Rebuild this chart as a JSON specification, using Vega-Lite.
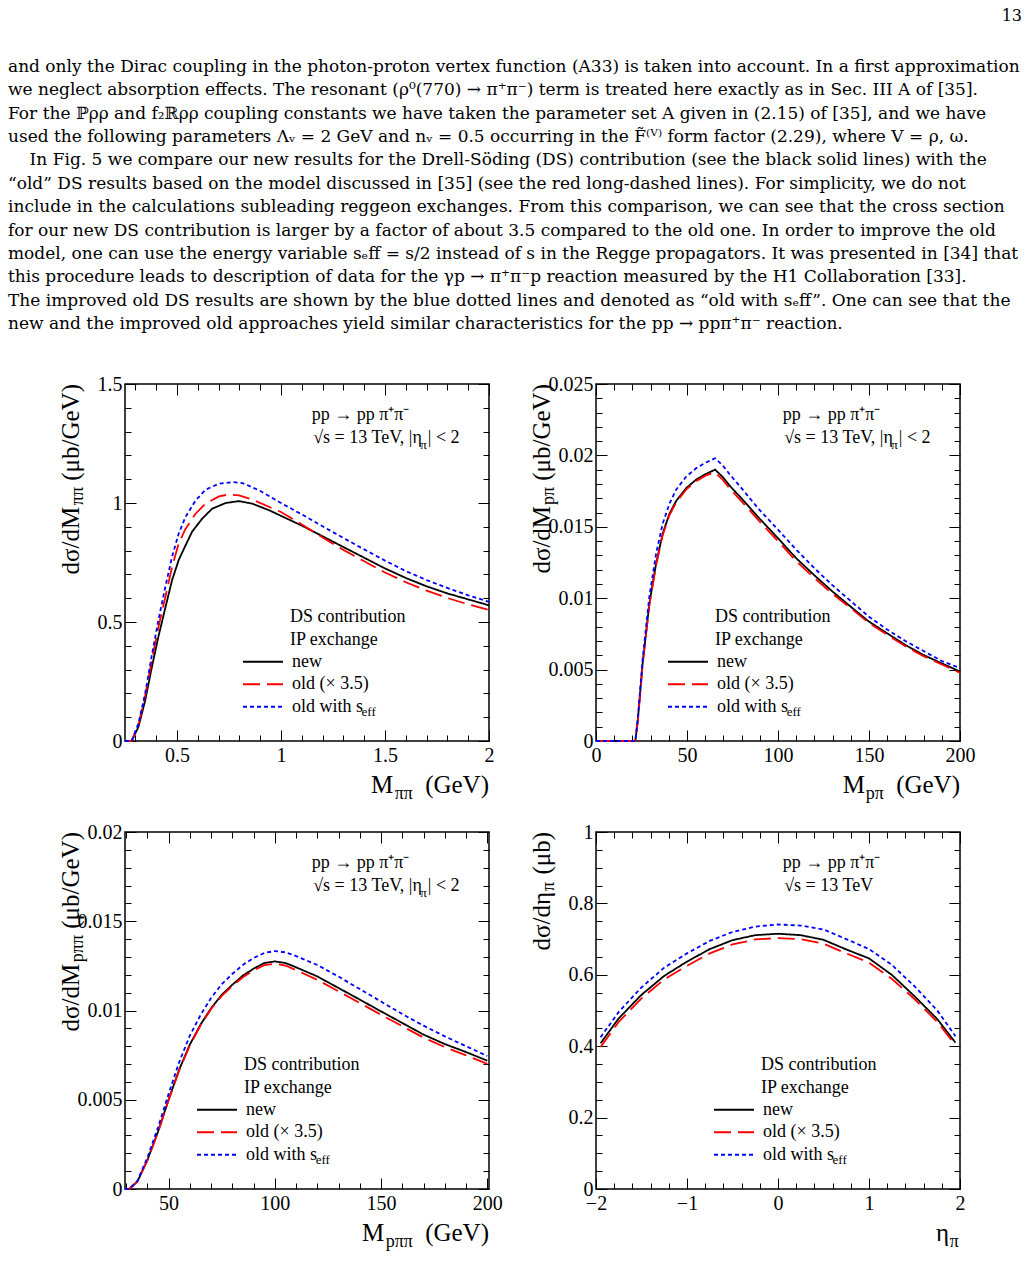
{
"$schema": "https://vega.github.io/schema/vega-lite/v6.json",
"padding": {"left": 8, "top": 7, "right": 5, "bottom": 5},
"background": "white",
"config": {"view": {"stroke": "black", "strokeWidth": 1.5}, "title": {"fontWeight": "normal", "color": "black"}},
"datasets": {
"p1": [
{"x":0.25,"y":0,"s":"n"},{"x":0.282,"y":0,"s":"n"},{"x":0.315,"y":0.06,"s":"n"},{"x":0.347,"y":0.17,"s":"n"},{"x":0.379,"y":0.31,"s":"n"},{"x":0.411,"y":0.44,"s":"n"},{"x":0.444,"y":0.56,"s":"n"},{"x":0.476,"y":0.675,"s":"n"},{"x":0.508,"y":0.76,"s":"n"},{"x":0.54,"y":0.82,"s":"n"},{"x":0.573,"y":0.88,"s":"n"},{"x":0.621,"y":0.934,"s":"n"},{"x":0.669,"y":0.976,"s":"n"},{"x":0.734,"y":1.0,"s":"n"},{"x":0.798,"y":1.008,"s":"n"},{"x":0.863,"y":0.997,"s":"n"},{"x":0.944,"y":0.969,"s":"n"},{"x":1.0,"y":0.946,"s":"n"},{"x":1.1,"y":0.905,"s":"n"},{"x":1.2,"y":0.86,"s":"n"},{"x":1.3,"y":0.815,"s":"n"},{"x":1.4,"y":0.77,"s":"n"},{"x":1.5,"y":0.725,"s":"n"},{"x":1.6,"y":0.685,"s":"n"},{"x":1.7,"y":0.65,"s":"n"},{"x":1.8,"y":0.62,"s":"n"},{"x":1.9,"y":0.595,"s":"n"},{"x":2.0,"y":0.57,"s":"n"},
{"x":0.25,"y":0,"s":"o"},{"x":0.282,"y":0,"s":"o"},{"x":0.315,"y":0.07,"s":"o"},{"x":0.347,"y":0.19,"s":"o"},{"x":0.379,"y":0.34,"s":"o"},{"x":0.411,"y":0.48,"s":"o"},{"x":0.444,"y":0.605,"s":"o"},{"x":0.476,"y":0.73,"s":"o"},{"x":0.508,"y":0.83,"s":"o"},{"x":0.54,"y":0.89,"s":"o"},{"x":0.589,"y":0.955,"s":"o"},{"x":0.637,"y":0.997,"s":"o"},{"x":0.702,"y":1.028,"s":"o"},{"x":0.75,"y":1.036,"s":"o"},{"x":0.798,"y":1.032,"s":"o"},{"x":0.863,"y":1.014,"s":"o"},{"x":0.944,"y":0.983,"s":"o"},{"x":1.0,"y":0.962,"s":"o"},{"x":1.1,"y":0.91,"s":"o"},{"x":1.2,"y":0.855,"s":"o"},{"x":1.3,"y":0.803,"s":"o"},{"x":1.4,"y":0.755,"s":"o"},{"x":1.5,"y":0.708,"s":"o"},{"x":1.6,"y":0.667,"s":"o"},{"x":1.7,"y":0.632,"s":"o"},{"x":1.8,"y":0.601,"s":"o"},{"x":1.9,"y":0.574,"s":"o"},{"x":2.0,"y":0.55,"s":"o"},
{"x":0.25,"y":0,"s":"e"},{"x":0.282,"y":0,"s":"e"},{"x":0.315,"y":0.075,"s":"e"},{"x":0.347,"y":0.2,"s":"e"},{"x":0.379,"y":0.36,"s":"e"},{"x":0.411,"y":0.51,"s":"e"},{"x":0.444,"y":0.648,"s":"e"},{"x":0.476,"y":0.773,"s":"e"},{"x":0.508,"y":0.871,"s":"e"},{"x":0.54,"y":0.94,"s":"e"},{"x":0.589,"y":1.01,"s":"e"},{"x":0.637,"y":1.056,"s":"e"},{"x":0.702,"y":1.081,"s":"e"},{"x":0.766,"y":1.088,"s":"e"},{"x":0.815,"y":1.084,"s":"e"},{"x":0.895,"y":1.053,"s":"e"},{"x":1.0,"y":1.0,"s":"e"},{"x":1.1,"y":0.952,"s":"e"},{"x":1.2,"y":0.902,"s":"e"},{"x":1.3,"y":0.853,"s":"e"},{"x":1.4,"y":0.805,"s":"e"},{"x":1.5,"y":0.758,"s":"e"},{"x":1.6,"y":0.714,"s":"e"},{"x":1.7,"y":0.676,"s":"e"},{"x":1.8,"y":0.643,"s":"e"},{"x":1.9,"y":0.612,"s":"e"},{"x":2.0,"y":0.585,"s":"e"}
],
"p2": [
{"x":0,"y":0,"s":"n"},{"x":21.6,"y":0,"s":"n"},{"x":23,"y":0.0015,"s":"n"},{"x":25.6,"y":0.0054,"s":"n"},{"x":29.3,"y":0.0096,"s":"n"},{"x":33,"y":0.0124,"s":"n"},{"x":36.6,"y":0.0145,"s":"n"},{"x":40.3,"y":0.0159,"s":"n"},{"x":44,"y":0.0168,"s":"n"},{"x":49.5,"y":0.0177,"s":"n"},{"x":55,"y":0.0183,"s":"n"},{"x":60.4,"y":0.0187,"s":"n"},{"x":65.4,"y":0.019,"s":"n"},{"x":69.6,"y":0.0185,"s":"n"},{"x":73.3,"y":0.0179,"s":"n"},{"x":80.6,"y":0.0169,"s":"n"},{"x":89.7,"y":0.0156,"s":"n"},{"x":100,"y":0.0142,"s":"n"},{"x":110,"y":0.0128,"s":"n"},{"x":120,"y":0.0116,"s":"n"},{"x":130,"y":0.01046,"s":"n"},{"x":140,"y":0.0094,"s":"n"},{"x":150,"y":0.00836,"s":"n"},{"x":160,"y":0.00754,"s":"n"},{"x":170,"y":0.00672,"s":"n"},{"x":180,"y":0.00602,"s":"n"},{"x":190,"y":0.00544,"s":"n"},{"x":200,"y":0.00486,"s":"n"},
{"x":0,"y":0,"s":"o"},{"x":21.6,"y":0,"s":"o"},{"x":23,"y":0.0014,"s":"o"},{"x":25.6,"y":0.0053,"s":"o"},{"x":29.3,"y":0.0095,"s":"o"},{"x":33,"y":0.0123,"s":"o"},{"x":36.6,"y":0.0144,"s":"o"},{"x":40.3,"y":0.0158,"s":"o"},{"x":44,"y":0.0167,"s":"o"},{"x":49.5,"y":0.0176,"s":"o"},{"x":55,"y":0.0182,"s":"o"},{"x":60.4,"y":0.0186,"s":"o"},{"x":65.4,"y":0.0188,"s":"o"},{"x":69.6,"y":0.0183,"s":"o"},{"x":73.3,"y":0.0177,"s":"o"},{"x":80.6,"y":0.0167,"s":"o"},{"x":89.7,"y":0.0154,"s":"o"},{"x":100,"y":0.014,"s":"o"},{"x":110,"y":0.0126,"s":"o"},{"x":120,"y":0.0114,"s":"o"},{"x":130,"y":0.0103,"s":"o"},{"x":140,"y":0.0093,"s":"o"},{"x":150,"y":0.00826,"s":"o"},{"x":160,"y":0.00745,"s":"o"},{"x":170,"y":0.00663,"s":"o"},{"x":180,"y":0.00594,"s":"o"},{"x":190,"y":0.00536,"s":"o"},{"x":200,"y":0.00478,"s":"o"},
{"x":0,"y":0,"s":"e"},{"x":21.6,"y":0,"s":"e"},{"x":23,"y":0.0016,"s":"e"},{"x":25.6,"y":0.0057,"s":"e"},{"x":29.3,"y":0.0101,"s":"e"},{"x":33,"y":0.0131,"s":"e"},{"x":36.6,"y":0.0152,"s":"e"},{"x":40.3,"y":0.0166,"s":"e"},{"x":44,"y":0.0176,"s":"e"},{"x":49.5,"y":0.0185,"s":"e"},{"x":55,"y":0.0191,"s":"e"},{"x":60.4,"y":0.0195,"s":"e"},{"x":65.4,"y":0.0198,"s":"e"},{"x":69.6,"y":0.0193,"s":"e"},{"x":73.3,"y":0.0187,"s":"e"},{"x":80.6,"y":0.0176,"s":"e"},{"x":89.7,"y":0.0162,"s":"e"},{"x":100,"y":0.0148,"s":"e"},{"x":110,"y":0.0134,"s":"e"},{"x":120,"y":0.0121,"s":"e"},{"x":130,"y":0.0109,"s":"e"},{"x":140,"y":0.0098,"s":"e"},{"x":150,"y":0.0087,"s":"e"},{"x":160,"y":0.0078,"s":"e"},{"x":170,"y":0.007,"s":"e"},{"x":180,"y":0.0063,"s":"e"},{"x":190,"y":0.0056,"s":"e"},{"x":200,"y":0.0051,"s":"e"}
],
"p3": [
{"x":29.5,"y":0,"s":"n"},{"x":31.5,"y":0,"s":"n"},{"x":35.4,"y":0.00043,"s":"n"},{"x":40.1,"y":0.00164,"s":"n"},{"x":45.1,"y":0.00323,"s":"n"},{"x":50,"y":0.005,"s":"n"},{"x":55,"y":0.00669,"s":"n"},{"x":60,"y":0.00809,"s":"n"},{"x":65.2,"y":0.00924,"s":"n"},{"x":70.1,"y":0.01014,"s":"n"},{"x":75.1,"y":0.01089,"s":"n"},{"x":80.1,"y":0.01145,"s":"n"},{"x":85.1,"y":0.01197,"s":"n"},{"x":90,"y":0.01234,"s":"n"},{"x":95,"y":0.01266,"s":"n"},{"x":100,"y":0.01275,"s":"n"},{"x":105,"y":0.01266,"s":"n"},{"x":110,"y":0.01242,"s":"n"},{"x":120,"y":0.01191,"s":"n"},{"x":130,"y":0.01126,"s":"n"},{"x":140,"y":0.01061,"s":"n"},{"x":150,"y":0.00995,"s":"n"},{"x":160,"y":0.0093,"s":"n"},{"x":170,"y":0.00865,"s":"n"},{"x":180,"y":0.00812,"s":"n"},{"x":190,"y":0.00767,"s":"n"},{"x":200,"y":0.00719,"s":"n"},
{"x":29.5,"y":0,"s":"o"},{"x":31.5,"y":0,"s":"o"},{"x":35.4,"y":0.00042,"s":"o"},{"x":40.1,"y":0.00162,"s":"o"},{"x":45.1,"y":0.0032,"s":"o"},{"x":50,"y":0.00497,"s":"o"},{"x":55,"y":0.00664,"s":"o"},{"x":60,"y":0.00804,"s":"o"},{"x":65.2,"y":0.0092,"s":"o"},{"x":70.1,"y":0.0101,"s":"o"},{"x":75.1,"y":0.01083,"s":"o"},{"x":80.1,"y":0.01138,"s":"o"},{"x":85.1,"y":0.01188,"s":"o"},{"x":90,"y":0.01224,"s":"o"},{"x":95,"y":0.01254,"s":"o"},{"x":100,"y":0.01262,"s":"o"},{"x":105,"y":0.01252,"s":"o"},{"x":110,"y":0.01226,"s":"o"},{"x":120,"y":0.01172,"s":"o"},{"x":130,"y":0.01107,"s":"o"},{"x":140,"y":0.01042,"s":"o"},{"x":150,"y":0.00976,"s":"o"},{"x":160,"y":0.00912,"s":"o"},{"x":170,"y":0.00848,"s":"o"},{"x":180,"y":0.00795,"s":"o"},{"x":190,"y":0.00749,"s":"o"},{"x":200,"y":0.00701,"s":"o"},
{"x":29.5,"y":0,"s":"e"},{"x":31.5,"y":0,"s":"e"},{"x":35.4,"y":0.00047,"s":"e"},{"x":40.1,"y":0.00178,"s":"e"},{"x":45.1,"y":0.00347,"s":"e"},{"x":50,"y":0.00532,"s":"e"},{"x":55,"y":0.00711,"s":"e"},{"x":60,"y":0.00859,"s":"e"},{"x":65.2,"y":0.00978,"s":"e"},{"x":70.1,"y":0.01072,"s":"e"},{"x":75.1,"y":0.01148,"s":"e"},{"x":80.1,"y":0.01206,"s":"e"},{"x":85.1,"y":0.01256,"s":"e"},{"x":90,"y":0.01294,"s":"e"},{"x":95,"y":0.01322,"s":"e"},{"x":100,"y":0.01333,"s":"e"},{"x":105,"y":0.01326,"s":"e"},{"x":110,"y":0.01305,"s":"e"},{"x":120,"y":0.01255,"s":"e"},{"x":130,"y":0.0119,"s":"e"},{"x":140,"y":0.0112,"s":"e"},{"x":150,"y":0.0105,"s":"e"},{"x":160,"y":0.0098,"s":"e"},{"x":170,"y":0.00915,"s":"e"},{"x":180,"y":0.00855,"s":"e"},{"x":190,"y":0.008,"s":"e"},{"x":200,"y":0.00745,"s":"e"}
],
"p4": [
{"x":-1.95,"y":0.408,"s":"n"},{"x":-1.75,"y":0.478,"s":"n"},{"x":-1.5,"y":0.544,"s":"n"},{"x":-1.25,"y":0.597,"s":"n"},{"x":-1.0,"y":0.637,"s":"n"},{"x":-0.75,"y":0.672,"s":"n"},{"x":-0.5,"y":0.697,"s":"n"},{"x":-0.25,"y":0.711,"s":"n"},{"x":0,"y":0.715,"s":"n"},{"x":0.25,"y":0.711,"s":"n"},{"x":0.5,"y":0.698,"s":"n"},{"x":0.75,"y":0.671,"s":"n"},{"x":1.0,"y":0.646,"s":"n"},{"x":1.25,"y":0.6,"s":"n"},{"x":1.5,"y":0.54,"s":"n"},{"x":1.75,"y":0.476,"s":"n"},{"x":1.95,"y":0.41,"s":"n"},
{"x":-1.95,"y":0.398,"s":"o"},{"x":-1.75,"y":0.468,"s":"o"},{"x":-1.5,"y":0.534,"s":"o"},{"x":-1.25,"y":0.587,"s":"o"},{"x":-1.0,"y":0.625,"s":"o"},{"x":-0.75,"y":0.66,"s":"o"},{"x":-0.5,"y":0.685,"s":"o"},{"x":-0.25,"y":0.699,"s":"o"},{"x":0,"y":0.703,"s":"o"},{"x":0.25,"y":0.7,"s":"o"},{"x":0.5,"y":0.687,"s":"o"},{"x":0.75,"y":0.66,"s":"o"},{"x":1.0,"y":0.634,"s":"o"},{"x":1.25,"y":0.589,"s":"o"},{"x":1.5,"y":0.532,"s":"o"},{"x":1.75,"y":0.468,"s":"o"},{"x":1.95,"y":0.403,"s":"o"},
{"x":-1.95,"y":0.425,"s":"e"},{"x":-1.75,"y":0.496,"s":"e"},{"x":-1.5,"y":0.565,"s":"e"},{"x":-1.25,"y":0.62,"s":"e"},{"x":-1.0,"y":0.66,"s":"e"},{"x":-0.75,"y":0.695,"s":"e"},{"x":-0.5,"y":0.72,"s":"e"},{"x":-0.25,"y":0.735,"s":"e"},{"x":0,"y":0.741,"s":"e"},{"x":0.25,"y":0.738,"s":"e"},{"x":0.5,"y":0.727,"s":"e"},{"x":0.75,"y":0.7,"s":"e"},{"x":1.0,"y":0.672,"s":"e"},{"x":1.25,"y":0.628,"s":"e"},{"x":1.5,"y":0.568,"s":"e"},{"x":1.75,"y":0.5,"s":"e"},{"x":1.95,"y":0.428,"s":"e"}
]
},
"title": {"text": "13", "anchor": "start", "align": "right", "frame": "group", "dx": 897, "font": "DejaVu Serif", "fontSize": 16, "offset": 34},
"bounds": "flush",
"resolve": {"scale": {"color": "independent", "strokeDash": "independent"}, "legend": {"color": "independent", "strokeDash": "independent"}},
"vconcat": [
{
"title": {"text": [
"and only the Dirac coupling in the photon-proton vertex function (A33) is taken into account. In a first approximation",
"we neglect absorption effects. The resonant (ρ⁰(770) → π⁺π⁻) term is treated here exactly as in Sec. III A of [35].",
"For the ℙρρ and f₂ℝρρ coupling constants we have taken the parameter set A given in (2.15) of [35], and we have",
"used the following parameters Λᵥ = 2 GeV and nᵥ = 0.5 occurring in the F̃⁽ⱽ⁾ form factor (2.29), where V = ρ, ω.",
"\u200b\u00a0\u00a0\u00a0\u00a0In Fig. 5 we compare our new results for the Drell-Söding (DS) contribution (see the black solid lines) with the",
"“old” DS results based on the model discussed in [35] (see the red long-dashed lines). For simplicity, we do not",
"include in the calculations subleading reggeon exchanges. From this comparison, we can see that the cross section",
"for our new DS contribution is larger by a factor of about 3.5 compared to the old one. In order to improve the old",
"model, one can use the energy variable sₑff = s/2 instead of s in the Regge propagators. It was presented in [34] that",
"this procedure leads to description of data for the γp → π⁺π⁻p reaction measured by the H1 Collaboration [33].",
"The improved old DS results are shown by the blue dotted lines and denoted as “old with sₑff”. One can see that the",
"new and the improved old approaches yield similar characteristics for the pp → ppπ⁺π⁻ reaction."
], "anchor": "start", "frame": "group", "dx": -117, "font": "DejaVu Serif", "fontSize": 17, "lineHeight": 23.4, "offset": 40},
"columns": 2,
"bounds": "flush",
"spacing": {"row": 91, "column": 107},
"resolve": {"scale": {"color": "independent", "strokeDash": "independent"}, "legend": {"color": "independent", "strokeDash": "independent"}},
"concat": [
{
"width": 364, "height": 357,
"layer": [
{"data": {"name": "p1"}, "mark": {"type": "line", "strokeWidth": 1.8},
 "encoding": {
  "x": {"field": "x", "type": "quantitative", "scale": {"domain": [0.25, 2], "nice": false, "zero": false}, "axis": {"orient": "bottom", "values": [0.5, 1, 1.5, 2], "format": ".1~f", "ticks": false, "domain": false, "grid": false, "title": null, "labelFont": "Liberation Serif", "labelFontSize": 20, "labelColor": "black", "labelPadding": 4, "labelFlush": false, "labelOverlap": false}},
  "y": {"field": "y", "type": "quantitative", "scale": {"domain": [0, 1.5], "nice": false, "zero": false}, "axis": {"orient": "left", "values": [0, 0.5, 1, 1.5], "format": ".1~f", "ticks": false, "domain": false, "grid": false, "title": null, "labelFont": "Liberation Serif", "labelFontSize": 20, "labelColor": "black", "labelPadding": 3, "labelBaseline": "middle", "labelFlush": false, "labelOverlap": false}},
  "color": {"field": "s", "type": "nominal", "scale": {"domain": ["n", "o", "e"], "range": ["#000000", "#ff0000", "#0000ff"]}, "legend": {"orient": "none", "legendX": 117, "legendY": 268.7, "title": null, "symbolType": "stroke", "symbolSize": 1600, "symbolStrokeWidth": 2, "labelFont": "Liberation Serif", "labelFontSize": 18, "labelColor": "black", "labelOffset": 8, "clipHeight": 18, "rowPadding": 4.5, "padding": 0, "labelLimit": 300, "labelExpr": "datum.value == 'n' ? 'new' : datum.value == 'o' ? 'old (× 3.5)' : 'old with s'"}},
  "strokeDash": {"field": "s", "type": "nominal", "scale": {"domain": ["n", "o", "e"], "range": [[1, 0], [17, 7], [4, 3]]}, "legend": {"orient": "none", "legendX": 117, "legendY": 268.7, "title": null, "symbolType": "stroke", "symbolSize": 1600, "symbolStrokeWidth": 2, "labelFont": "Liberation Serif", "labelFontSize": 18, "labelColor": "black", "labelOffset": 8, "clipHeight": 18, "rowPadding": 4.5, "padding": 0, "labelLimit": 300, "labelExpr": "datum.value == 'n' ? 'new' : datum.value == 'o' ? 'old (× 3.5)' : 'old with s'"}}
 }},
{"data": {"values": [{}]}, "mark": {"type": "text", "text": ""},
 "encoding": {
  "x": {"datum": 0.25, "type": "quantitative", "scale": {"domain": [0.25, 2], "nice": false, "zero": false}, "axis": {"orient": "bottom", "values": [0.5, 1, 1.5, 2], "labels": false, "domain": false, "grid": false, "title": null, "tickSize": -11, "tickColor": "black", "tickWidth": 1}},
  "y": {"datum": 0, "type": "quantitative", "scale": {"domain": [0, 1.5], "nice": false, "zero": false}, "axis": {"orient": "left", "values": [0, 0.5, 1, 1.5], "labels": false, "domain": false, "grid": false, "title": null, "tickSize": -11, "tickColor": "black", "tickWidth": 1}}
 }},
{"data": {"values": [{}]}, "mark": {"type": "text", "text": ""},
 "encoding": {
  "x": {"datum": 0.25, "type": "quantitative", "scale": {"domain": [0.25, 2], "nice": false, "zero": false}, "axis": {"orient": "bottom", "values": [0.3, 0.4, 0.6, 0.7, 0.8, 0.9, 1.1, 1.2, 1.3, 1.4, 1.6, 1.7, 1.8, 1.9], "labels": false, "domain": false, "grid": false, "title": null, "tickSize": -6, "tickColor": "black", "tickWidth": 1}},
  "y": {"datum": 0, "type": "quantitative", "scale": {"domain": [0, 1.5], "nice": false, "zero": false}, "axis": {"orient": "left", "values": [0.1, 0.2, 0.3, 0.4, 0.6, 0.7, 0.8, 0.9, 1.1, 1.2, 1.3, 1.4], "labels": false, "domain": false, "grid": false, "title": null, "tickSize": -6, "tickColor": "black", "tickWidth": 1}}
 }},
{"data": {"values": [{}]}, "mark": {"type": "text", "text": ""},
 "encoding": {
  "x": {"datum": 0.25, "type": "quantitative", "scale": {"domain": [0.25, 2], "nice": false, "zero": false}, "axis": {"orient": "top", "values": [0.5, 1, 1.5, 2], "labels": false, "domain": false, "grid": false, "title": null, "tickSize": -11, "tickColor": "black", "tickWidth": 1}},
  "y": {"datum": 0, "type": "quantitative", "scale": {"domain": [0, 1.5], "nice": false, "zero": false}, "axis": {"orient": "right", "values": [0, 0.5, 1, 1.5], "labels": false, "domain": false, "grid": false, "title": null, "tickSize": -11, "tickColor": "black", "tickWidth": 1}}
 }},
{"data": {"values": [{}]}, "mark": {"type": "text", "text": ""},
 "encoding": {
  "x": {"datum": 0.25, "type": "quantitative", "scale": {"domain": [0.25, 2], "nice": false, "zero": false}, "axis": {"orient": "top", "values": [0.3, 0.4, 0.6, 0.7, 0.8, 0.9, 1.1, 1.2, 1.3, 1.4, 1.6, 1.7, 1.8, 1.9], "labels": false, "domain": false, "grid": false, "title": null, "tickSize": -6, "tickColor": "black", "tickWidth": 1}},
  "y": {"datum": 0, "type": "quantitative", "scale": {"domain": [0, 1.5], "nice": false, "zero": false}, "axis": {"orient": "right", "values": [0.1, 0.2, 0.3, 0.4, 0.6, 0.7, 0.8, 0.9, 1.1, 1.2, 1.3, 1.4], "labels": false, "domain": false, "grid": false, "title": null, "tickSize": -6, "tickColor": "black", "tickWidth": 1}}
 }},
{"data": {"values": [{}]}, "mark": {"type": "text", "font": "Liberation Serif", "fontSize": 18, "align": "left", "baseline": "alphabetic"}, "encoding": {"x": {"datum": 0.513, "type": "quantitative", "scale": {"domain": [0, 1]}, "axis": null}, "y": {"datum": 0.101, "type": "quantitative", "scale": {"domain": [0, 1], "reverse": true}, "axis": null}, "text": {"value": "pp → pp π⁺π⁻"}}},
{"data": {"values": [{}]}, "mark": {"type": "text", "font": "Liberation Serif", "fontSize": 18, "align": "left", "baseline": "alphabetic"}, "encoding": {"x": {"datum": 0.517, "type": "quantitative", "scale": {"domain": [0, 1]}, "axis": null}, "y": {"datum": 0.164, "type": "quantitative", "scale": {"domain": [0, 1], "reverse": true}, "axis": null}, "text": {"value": "√s = 13 TeV, |η"}}},
{"data": {"values": [{}]}, "mark": {"type": "text", "font": "Liberation Serif", "fontSize": 13, "align": "left", "baseline": "alphabetic"}, "encoding": {"x": {"datum": 0.811, "type": "quantitative", "scale": {"domain": [0, 1]}, "axis": null}, "y": {"datum": 0.183, "type": "quantitative", "scale": {"domain": [0, 1], "reverse": true}, "axis": null}, "text": {"value": "π"}}},
{"data": {"values": [{}]}, "mark": {"type": "text", "font": "Liberation Serif", "fontSize": 18, "align": "left", "baseline": "alphabetic"}, "encoding": {"x": {"datum": 0.832, "type": "quantitative", "scale": {"domain": [0, 1]}, "axis": null}, "y": {"datum": 0.164, "type": "quantitative", "scale": {"domain": [0, 1], "reverse": true}, "axis": null}, "text": {"value": "| < 2"}}},
{"data": {"values": [{}]}, "mark": {"type": "text", "font": "Liberation Serif", "fontSize": 18, "align": "left", "baseline": "middle"}, "encoding": {"x": {"datum": 0.4533, "type": "quantitative", "scale": {"domain": [0, 1]}, "axis": null}, "y": {"datum": 0.653, "type": "quantitative", "scale": {"domain": [0, 1], "reverse": true}, "axis": null}, "text": {"value": "DS contribution"}}},
{"data": {"values": [{}]}, "mark": {"type": "text", "font": "Liberation Serif", "fontSize": 18, "align": "left", "baseline": "middle"}, "encoding": {"x": {"datum": 0.4533, "type": "quantitative", "scale": {"domain": [0, 1]}, "axis": null}, "y": {"datum": 0.717, "type": "quantitative", "scale": {"domain": [0, 1], "reverse": true}, "axis": null}, "text": {"value": "IP exchange"}}},
{"data": {"values": [{}]}, "mark": {"type": "text", "font": "Liberation Serif", "fontSize": 13, "align": "left", "baseline": "alphabetic"}, "encoding": {"x": {"datum": 0.65, "type": "quantitative", "scale": {"domain": [0, 1]}, "axis": null}, "y": {"datum": 0.93, "type": "quantitative", "scale": {"domain": [0, 1], "reverse": true}, "axis": null}, "text": {"value": "eff"}}},
{"data": {"values": [{}]}, "mark": {"type": "text", "font": "Liberation Serif", "fontSize": 25, "align": "right", "baseline": "alphabetic", "angle": 270}, "encoding": {"x": {"datum": -0.1264, "type": "quantitative", "scale": {"domain": [0, 1]}, "axis": null}, "y": {"datum": 0, "type": "quantitative", "scale": {"domain": [0, 1], "reverse": true}, "axis": null}, "text": {"value": "(μb/GeV)"}}},
{"data": {"values": [{}]}, "mark": {"type": "text", "font": "Liberation Serif", "fontSize": 18, "align": "right", "baseline": "alphabetic", "angle": 270}, "encoding": {"x": {"datum": -0.1154, "type": "quantitative", "scale": {"domain": [0, 1]}, "axis": null}, "y": {"datum": 0.2885, "type": "quantitative", "scale": {"domain": [0, 1], "reverse": true}, "axis": null}, "text": {"value": "ππ"}}},
{"data": {"values": [{}]}, "mark": {"type": "text", "font": "Liberation Serif", "fontSize": 25, "align": "right", "baseline": "alphabetic", "angle": 270}, "encoding": {"x": {"datum": -0.1264, "type": "quantitative", "scale": {"domain": [0, 1]}, "axis": null}, "y": {"datum": 0.344, "type": "quantitative", "scale": {"domain": [0, 1], "reverse": true}, "axis": null}, "text": {"value": "dσ/dM"}}},
{"data": {"values": [{}]}, "mark": {"type": "text", "font": "Liberation Serif", "fontSize": 25, "align": "right", "baseline": "alphabetic"}, "encoding": {"x": {"datum": 1.0, "type": "quantitative", "scale": {"domain": [0, 1]}, "axis": null}, "y": {"datum": 1.1457, "type": "quantitative", "scale": {"domain": [0, 1], "reverse": true}, "axis": null}, "text": {"value": "(GeV)"}}},
{"data": {"values": [{}]}, "mark": {"type": "text", "font": "Liberation Serif", "fontSize": 18, "align": "right", "baseline": "alphabetic"}, "encoding": {"x": {"datum": 0.791, "type": "quantitative", "scale": {"domain": [0, 1]}, "axis": null}, "y": {"datum": 1.162, "type": "quantitative", "scale": {"domain": [0, 1], "reverse": true}, "axis": null}, "text": {"value": "ππ"}}},
{"data": {"values": [{}]}, "mark": {"type": "text", "font": "Liberation Serif", "fontSize": 25, "align": "right", "baseline": "alphabetic"}, "encoding": {"x": {"datum": 0.7366, "type": "quantitative", "scale": {"domain": [0, 1]}, "axis": null}, "y": {"datum": 1.1457, "type": "quantitative", "scale": {"domain": [0, 1], "reverse": true}, "axis": null}, "text": {"value": "M"}}}
],
"resolve": {"scale": {"x": "independent", "y": "independent"}, "axis": {"x": "independent", "y": "independent"}}
},
{
"width": 364, "height": 357,
"layer": [
{"data": {"name": "p2"}, "mark": {"type": "line", "strokeWidth": 1.8},
 "encoding": {
  "x": {"field": "x", "type": "quantitative", "scale": {"domain": [0, 200], "nice": false, "zero": false}, "axis": {"orient": "bottom", "values": [0, 50, 100, 150, 200], "format": "d", "ticks": false, "domain": false, "grid": false, "title": null, "labelFont": "Liberation Serif", "labelFontSize": 20, "labelColor": "black", "labelPadding": 4, "labelFlush": false, "labelOverlap": false}},
  "y": {"field": "y", "type": "quantitative", "scale": {"domain": [0, 0.025], "nice": false, "zero": false}, "axis": {"orient": "left", "values": [0, 0.005, 0.01, 0.015, 0.02, 0.025], "format": ".3~f", "ticks": false, "domain": false, "grid": false, "title": null, "labelFont": "Liberation Serif", "labelFontSize": 20, "labelColor": "black", "labelPadding": 3, "labelBaseline": "middle", "labelFlush": false, "labelOverlap": false}},
  "color": {"field": "s", "type": "nominal", "scale": {"domain": ["n", "o", "e"], "range": ["#000000", "#ff0000", "#0000ff"]}, "legend": {"orient": "none", "legendX": 71, "legendY": 268.7, "title": null, "symbolType": "stroke", "symbolSize": 1600, "symbolStrokeWidth": 2, "labelFont": "Liberation Serif", "labelFontSize": 18, "labelColor": "black", "labelOffset": 8, "clipHeight": 18, "rowPadding": 4.5, "padding": 0, "labelLimit": 300, "labelExpr": "datum.value == 'n' ? 'new' : datum.value == 'o' ? 'old (× 3.5)' : 'old with s'"}},
  "strokeDash": {"field": "s", "type": "nominal", "scale": {"domain": ["n", "o", "e"], "range": [[1, 0], [17, 7], [4, 3]]}, "legend": {"orient": "none", "legendX": 71, "legendY": 268.7, "title": null, "symbolType": "stroke", "symbolSize": 1600, "symbolStrokeWidth": 2, "labelFont": "Liberation Serif", "labelFontSize": 18, "labelColor": "black", "labelOffset": 8, "clipHeight": 18, "rowPadding": 4.5, "padding": 0, "labelLimit": 300, "labelExpr": "datum.value == 'n' ? 'new' : datum.value == 'o' ? 'old (× 3.5)' : 'old with s'"}}
 }},
{"data": {"values": [{}]}, "mark": {"type": "text", "text": ""},
 "encoding": {
  "x": {"datum": 0, "type": "quantitative", "scale": {"domain": [0, 200], "nice": false, "zero": false}, "axis": {"orient": "bottom", "values": [0, 50, 100, 150, 200], "labels": false, "domain": false, "grid": false, "title": null, "tickSize": -11, "tickColor": "black", "tickWidth": 1}},
  "y": {"datum": 0, "type": "quantitative", "scale": {"domain": [0, 0.025], "nice": false, "zero": false}, "axis": {"orient": "left", "values": [0, 0.005, 0.01, 0.015, 0.02, 0.025], "labels": false, "domain": false, "grid": false, "title": null, "tickSize": -11, "tickColor": "black", "tickWidth": 1}}
 }},
{"data": {"values": [{}]}, "mark": {"type": "text", "text": ""},
 "encoding": {
  "x": {"datum": 0, "type": "quantitative", "scale": {"domain": [0, 200], "nice": false, "zero": false}, "axis": {"orient": "bottom", "values": [10, 20, 30, 40, 60, 70, 80, 90, 110, 120, 130, 140, 160, 170, 180, 190], "labels": false, "domain": false, "grid": false, "title": null, "tickSize": -6, "tickColor": "black", "tickWidth": 1}},
  "y": {"datum": 0, "type": "quantitative", "scale": {"domain": [0, 0.025], "nice": false, "zero": false}, "axis": {"orient": "left", "values": [0.001, 0.002, 0.003, 0.004, 0.006, 0.007, 0.008, 0.009, 0.011, 0.012, 0.013, 0.014, 0.016, 0.017, 0.018, 0.019, 0.021, 0.022, 0.023, 0.024], "labels": false, "domain": false, "grid": false, "title": null, "tickSize": -6, "tickColor": "black", "tickWidth": 1}}
 }},
{"data": {"values": [{}]}, "mark": {"type": "text", "text": ""},
 "encoding": {
  "x": {"datum": 0, "type": "quantitative", "scale": {"domain": [0, 200], "nice": false, "zero": false}, "axis": {"orient": "top", "values": [0, 50, 100, 150, 200], "labels": false, "domain": false, "grid": false, "title": null, "tickSize": -11, "tickColor": "black", "tickWidth": 1}},
  "y": {"datum": 0, "type": "quantitative", "scale": {"domain": [0, 0.025], "nice": false, "zero": false}, "axis": {"orient": "right", "values": [0, 0.005, 0.01, 0.015, 0.02, 0.025], "labels": false, "domain": false, "grid": false, "title": null, "tickSize": -11, "tickColor": "black", "tickWidth": 1}}
 }},
{"data": {"values": [{}]}, "mark": {"type": "text", "text": ""},
 "encoding": {
  "x": {"datum": 0, "type": "quantitative", "scale": {"domain": [0, 200], "nice": false, "zero": false}, "axis": {"orient": "top", "values": [10, 20, 30, 40, 60, 70, 80, 90, 110, 120, 130, 140, 160, 170, 180, 190], "labels": false, "domain": false, "grid": false, "title": null, "tickSize": -6, "tickColor": "black", "tickWidth": 1}},
  "y": {"datum": 0, "type": "quantitative", "scale": {"domain": [0, 0.025], "nice": false, "zero": false}, "axis": {"orient": "right", "values": [0.001, 0.002, 0.003, 0.004, 0.006, 0.007, 0.008, 0.009, 0.011, 0.012, 0.013, 0.014, 0.016, 0.017, 0.018, 0.019, 0.021, 0.022, 0.023, 0.024], "labels": false, "domain": false, "grid": false, "title": null, "tickSize": -6, "tickColor": "black", "tickWidth": 1}}
 }},
{"data": {"values": [{}]}, "mark": {"type": "text", "font": "Liberation Serif", "fontSize": 18, "align": "left", "baseline": "alphabetic"}, "encoding": {"x": {"datum": 0.513, "type": "quantitative", "scale": {"domain": [0, 1]}, "axis": null}, "y": {"datum": 0.101, "type": "quantitative", "scale": {"domain": [0, 1], "reverse": true}, "axis": null}, "text": {"value": "pp → pp π⁺π⁻"}}},
{"data": {"values": [{}]}, "mark": {"type": "text", "font": "Liberation Serif", "fontSize": 18, "align": "left", "baseline": "alphabetic"}, "encoding": {"x": {"datum": 0.517, "type": "quantitative", "scale": {"domain": [0, 1]}, "axis": null}, "y": {"datum": 0.164, "type": "quantitative", "scale": {"domain": [0, 1], "reverse": true}, "axis": null}, "text": {"value": "√s = 13 TeV, |η"}}},
{"data": {"values": [{}]}, "mark": {"type": "text", "font": "Liberation Serif", "fontSize": 13, "align": "left", "baseline": "alphabetic"}, "encoding": {"x": {"datum": 0.811, "type": "quantitative", "scale": {"domain": [0, 1]}, "axis": null}, "y": {"datum": 0.183, "type": "quantitative", "scale": {"domain": [0, 1], "reverse": true}, "axis": null}, "text": {"value": "π"}}},
{"data": {"values": [{}]}, "mark": {"type": "text", "font": "Liberation Serif", "fontSize": 18, "align": "left", "baseline": "alphabetic"}, "encoding": {"x": {"datum": 0.832, "type": "quantitative", "scale": {"domain": [0, 1]}, "axis": null}, "y": {"datum": 0.164, "type": "quantitative", "scale": {"domain": [0, 1], "reverse": true}, "axis": null}, "text": {"value": "| < 2"}}},
{"data": {"values": [{}]}, "mark": {"type": "text", "font": "Liberation Serif", "fontSize": 18, "align": "left", "baseline": "middle"}, "encoding": {"x": {"datum": 0.327, "type": "quantitative", "scale": {"domain": [0, 1]}, "axis": null}, "y": {"datum": 0.653, "type": "quantitative", "scale": {"domain": [0, 1], "reverse": true}, "axis": null}, "text": {"value": "DS contribution"}}},
{"data": {"values": [{}]}, "mark": {"type": "text", "font": "Liberation Serif", "fontSize": 18, "align": "left", "baseline": "middle"}, "encoding": {"x": {"datum": 0.327, "type": "quantitative", "scale": {"domain": [0, 1]}, "axis": null}, "y": {"datum": 0.717, "type": "quantitative", "scale": {"domain": [0, 1], "reverse": true}, "axis": null}, "text": {"value": "IP exchange"}}},
{"data": {"values": [{}]}, "mark": {"type": "text", "font": "Liberation Serif", "fontSize": 13, "align": "left", "baseline": "alphabetic"}, "encoding": {"x": {"datum": 0.524, "type": "quantitative", "scale": {"domain": [0, 1]}, "axis": null}, "y": {"datum": 0.93, "type": "quantitative", "scale": {"domain": [0, 1], "reverse": true}, "axis": null}, "text": {"value": "eff"}}},
{"data": {"values": [{}]}, "mark": {"type": "text", "font": "Liberation Serif", "fontSize": 25, "align": "right", "baseline": "alphabetic", "angle": 270}, "encoding": {"x": {"datum": -0.1264, "type": "quantitative", "scale": {"domain": [0, 1]}, "axis": null}, "y": {"datum": 0, "type": "quantitative", "scale": {"domain": [0, 1], "reverse": true}, "axis": null}, "text": {"value": "(μb/GeV)"}}},
{"data": {"values": [{}]}, "mark": {"type": "text", "font": "Liberation Serif", "fontSize": 18, "align": "right", "baseline": "alphabetic", "angle": 270}, "encoding": {"x": {"datum": -0.1154, "type": "quantitative", "scale": {"domain": [0, 1]}, "axis": null}, "y": {"datum": 0.2885, "type": "quantitative", "scale": {"domain": [0, 1], "reverse": true}, "axis": null}, "text": {"value": "pπ"}}},
{"data": {"values": [{}]}, "mark": {"type": "text", "font": "Liberation Serif", "fontSize": 25, "align": "right", "baseline": "alphabetic", "angle": 270}, "encoding": {"x": {"datum": -0.1264, "type": "quantitative", "scale": {"domain": [0, 1]}, "axis": null}, "y": {"datum": 0.3415, "type": "quantitative", "scale": {"domain": [0, 1], "reverse": true}, "axis": null}, "text": {"value": "dσ/dM"}}},
{"data": {"values": [{}]}, "mark": {"type": "text", "font": "Liberation Serif", "fontSize": 25, "align": "right", "baseline": "alphabetic"}, "encoding": {"x": {"datum": 1.0, "type": "quantitative", "scale": {"domain": [0, 1]}, "axis": null}, "y": {"datum": 1.1457, "type": "quantitative", "scale": {"domain": [0, 1], "reverse": true}, "axis": null}, "text": {"value": "(GeV)"}}},
{"data": {"values": [{}]}, "mark": {"type": "text", "font": "Liberation Serif", "fontSize": 18, "align": "right", "baseline": "alphabetic"}, "encoding": {"x": {"datum": 0.791, "type": "quantitative", "scale": {"domain": [0, 1]}, "axis": null}, "y": {"datum": 1.162, "type": "quantitative", "scale": {"domain": [0, 1], "reverse": true}, "axis": null}, "text": {"value": "pπ"}}},
{"data": {"values": [{}]}, "mark": {"type": "text", "font": "Liberation Serif", "fontSize": 25, "align": "right", "baseline": "alphabetic"}, "encoding": {"x": {"datum": 0.7391, "type": "quantitative", "scale": {"domain": [0, 1]}, "axis": null}, "y": {"datum": 1.1457, "type": "quantitative", "scale": {"domain": [0, 1], "reverse": true}, "axis": null}, "text": {"value": "M"}}}
],
"resolve": {"scale": {"x": "independent", "y": "independent"}, "axis": {"x": "independent", "y": "independent"}}
},
{
"width": 364, "height": 357,
"layer": [
{"data": {"name": "p3"}, "mark": {"type": "line", "strokeWidth": 1.8},
 "encoding": {
  "x": {"field": "x", "type": "quantitative", "scale": {"domain": [29.5, 200.8], "nice": false, "zero": false}, "axis": {"orient": "bottom", "values": [50, 100, 150, 200], "format": "d", "ticks": false, "domain": false, "grid": false, "title": null, "labelFont": "Liberation Serif", "labelFontSize": 20, "labelColor": "black", "labelPadding": 4, "labelFlush": false, "labelOverlap": false}},
  "y": {"field": "y", "type": "quantitative", "scale": {"domain": [0, 0.02], "nice": false, "zero": false}, "axis": {"orient": "left", "values": [0, 0.005, 0.01, 0.015, 0.02], "format": ".3~f", "ticks": false, "domain": false, "grid": false, "title": null, "labelFont": "Liberation Serif", "labelFontSize": 20, "labelColor": "black", "labelPadding": 3, "labelBaseline": "middle", "labelFlush": false, "labelOverlap": false}},
  "color": {"field": "s", "type": "nominal", "scale": {"domain": ["n", "o", "e"], "range": ["#000000", "#ff0000", "#0000ff"]}, "legend": {"orient": "none", "legendX": 71, "legendY": 268.7, "title": null, "symbolType": "stroke", "symbolSize": 1600, "symbolStrokeWidth": 2, "labelFont": "Liberation Serif", "labelFontSize": 18, "labelColor": "black", "labelOffset": 8, "clipHeight": 18, "rowPadding": 4.5, "padding": 0, "labelLimit": 300, "labelExpr": "datum.value == 'n' ? 'new' : datum.value == 'o' ? 'old (× 3.5)' : 'old with s'"}},
  "strokeDash": {"field": "s", "type": "nominal", "scale": {"domain": ["n", "o", "e"], "range": [[1, 0], [17, 7], [4, 3]]}, "legend": {"orient": "none", "legendX": 71, "legendY": 268.7, "title": null, "symbolType": "stroke", "symbolSize": 1600, "symbolStrokeWidth": 2, "labelFont": "Liberation Serif", "labelFontSize": 18, "labelColor": "black", "labelOffset": 8, "clipHeight": 18, "rowPadding": 4.5, "padding": 0, "labelLimit": 300, "labelExpr": "datum.value == 'n' ? 'new' : datum.value == 'o' ? 'old (× 3.5)' : 'old with s'"}}
 }},
{"data": {"values": [{}]}, "mark": {"type": "text", "text": ""},
 "encoding": {
  "x": {"datum": 50, "type": "quantitative", "scale": {"domain": [29.5, 200.8], "nice": false, "zero": false}, "axis": {"orient": "bottom", "values": [50, 100, 150, 200], "labels": false, "domain": false, "grid": false, "title": null, "tickSize": -11, "tickColor": "black", "tickWidth": 1}},
  "y": {"datum": 0, "type": "quantitative", "scale": {"domain": [0, 0.02], "nice": false, "zero": false}, "axis": {"orient": "left", "values": [0, 0.005, 0.01, 0.015, 0.02], "labels": false, "domain": false, "grid": false, "title": null, "tickSize": -11, "tickColor": "black", "tickWidth": 1}}
 }},
{"data": {"values": [{}]}, "mark": {"type": "text", "text": ""},
 "encoding": {
  "x": {"datum": 50, "type": "quantitative", "scale": {"domain": [29.5, 200.8], "nice": false, "zero": false}, "axis": {"orient": "bottom", "values": [30, 40, 60, 70, 80, 90, 110, 120, 130, 140, 160, 170, 180, 190], "labels": false, "domain": false, "grid": false, "title": null, "tickSize": -6, "tickColor": "black", "tickWidth": 1}},
  "y": {"datum": 0, "type": "quantitative", "scale": {"domain": [0, 0.02], "nice": false, "zero": false}, "axis": {"orient": "left", "values": [0.001, 0.002, 0.003, 0.004, 0.006, 0.007, 0.008, 0.009, 0.011, 0.012, 0.013, 0.014, 0.016, 0.017, 0.018, 0.019], "labels": false, "domain": false, "grid": false, "title": null, "tickSize": -6, "tickColor": "black", "tickWidth": 1}}
 }},
{"data": {"values": [{}]}, "mark": {"type": "text", "text": ""},
 "encoding": {
  "x": {"datum": 50, "type": "quantitative", "scale": {"domain": [29.5, 200.8], "nice": false, "zero": false}, "axis": {"orient": "top", "values": [50, 100, 150, 200], "labels": false, "domain": false, "grid": false, "title": null, "tickSize": -11, "tickColor": "black", "tickWidth": 1}},
  "y": {"datum": 0, "type": "quantitative", "scale": {"domain": [0, 0.02], "nice": false, "zero": false}, "axis": {"orient": "right", "values": [0, 0.005, 0.01, 0.015, 0.02], "labels": false, "domain": false, "grid": false, "title": null, "tickSize": -11, "tickColor": "black", "tickWidth": 1}}
 }},
{"data": {"values": [{}]}, "mark": {"type": "text", "text": ""},
 "encoding": {
  "x": {"datum": 50, "type": "quantitative", "scale": {"domain": [29.5, 200.8], "nice": false, "zero": false}, "axis": {"orient": "top", "values": [30, 40, 60, 70, 80, 90, 110, 120, 130, 140, 160, 170, 180, 190], "labels": false, "domain": false, "grid": false, "title": null, "tickSize": -6, "tickColor": "black", "tickWidth": 1}},
  "y": {"datum": 0, "type": "quantitative", "scale": {"domain": [0, 0.02], "nice": false, "zero": false}, "axis": {"orient": "right", "values": [0.001, 0.002, 0.003, 0.004, 0.006, 0.007, 0.008, 0.009, 0.011, 0.012, 0.013, 0.014, 0.016, 0.017, 0.018, 0.019], "labels": false, "domain": false, "grid": false, "title": null, "tickSize": -6, "tickColor": "black", "tickWidth": 1}}
 }},
{"data": {"values": [{}]}, "mark": {"type": "text", "font": "Liberation Serif", "fontSize": 18, "align": "left", "baseline": "alphabetic"}, "encoding": {"x": {"datum": 0.513, "type": "quantitative", "scale": {"domain": [0, 1]}, "axis": null}, "y": {"datum": 0.101, "type": "quantitative", "scale": {"domain": [0, 1], "reverse": true}, "axis": null}, "text": {"value": "pp → pp π⁺π⁻"}}},
{"data": {"values": [{}]}, "mark": {"type": "text", "font": "Liberation Serif", "fontSize": 18, "align": "left", "baseline": "alphabetic"}, "encoding": {"x": {"datum": 0.517, "type": "quantitative", "scale": {"domain": [0, 1]}, "axis": null}, "y": {"datum": 0.164, "type": "quantitative", "scale": {"domain": [0, 1], "reverse": true}, "axis": null}, "text": {"value": "√s = 13 TeV, |η"}}},
{"data": {"values": [{}]}, "mark": {"type": "text", "font": "Liberation Serif", "fontSize": 13, "align": "left", "baseline": "alphabetic"}, "encoding": {"x": {"datum": 0.811, "type": "quantitative", "scale": {"domain": [0, 1]}, "axis": null}, "y": {"datum": 0.183, "type": "quantitative", "scale": {"domain": [0, 1], "reverse": true}, "axis": null}, "text": {"value": "π"}}},
{"data": {"values": [{}]}, "mark": {"type": "text", "font": "Liberation Serif", "fontSize": 18, "align": "left", "baseline": "alphabetic"}, "encoding": {"x": {"datum": 0.832, "type": "quantitative", "scale": {"domain": [0, 1]}, "axis": null}, "y": {"datum": 0.164, "type": "quantitative", "scale": {"domain": [0, 1], "reverse": true}, "axis": null}, "text": {"value": "| < 2"}}},
{"data": {"values": [{}]}, "mark": {"type": "text", "font": "Liberation Serif", "fontSize": 18, "align": "left", "baseline": "middle"}, "encoding": {"x": {"datum": 0.327, "type": "quantitative", "scale": {"domain": [0, 1]}, "axis": null}, "y": {"datum": 0.653, "type": "quantitative", "scale": {"domain": [0, 1], "reverse": true}, "axis": null}, "text": {"value": "DS contribution"}}},
{"data": {"values": [{}]}, "mark": {"type": "text", "font": "Liberation Serif", "fontSize": 18, "align": "left", "baseline": "middle"}, "encoding": {"x": {"datum": 0.327, "type": "quantitative", "scale": {"domain": [0, 1]}, "axis": null}, "y": {"datum": 0.717, "type": "quantitative", "scale": {"domain": [0, 1], "reverse": true}, "axis": null}, "text": {"value": "IP exchange"}}},
{"data": {"values": [{}]}, "mark": {"type": "text", "font": "Liberation Serif", "fontSize": 13, "align": "left", "baseline": "alphabetic"}, "encoding": {"x": {"datum": 0.524, "type": "quantitative", "scale": {"domain": [0, 1]}, "axis": null}, "y": {"datum": 0.93, "type": "quantitative", "scale": {"domain": [0, 1], "reverse": true}, "axis": null}, "text": {"value": "eff"}}},
{"data": {"values": [{}]}, "mark": {"type": "text", "font": "Liberation Serif", "fontSize": 25, "align": "right", "baseline": "alphabetic", "angle": 270}, "encoding": {"x": {"datum": -0.1264, "type": "quantitative", "scale": {"domain": [0, 1]}, "axis": null}, "y": {"datum": 0, "type": "quantitative", "scale": {"domain": [0, 1], "reverse": true}, "axis": null}, "text": {"value": "(μb/GeV)"}}},
{"data": {"values": [{}]}, "mark": {"type": "text", "font": "Liberation Serif", "fontSize": 18, "align": "right", "baseline": "alphabetic", "angle": 270}, "encoding": {"x": {"datum": -0.1154, "type": "quantitative", "scale": {"domain": [0, 1]}, "axis": null}, "y": {"datum": 0.2885, "type": "quantitative", "scale": {"domain": [0, 1], "reverse": true}, "axis": null}, "text": {"value": "pππ"}}},
{"data": {"values": [{}]}, "mark": {"type": "text", "font": "Liberation Serif", "fontSize": 25, "align": "right", "baseline": "alphabetic", "angle": 270}, "encoding": {"x": {"datum": -0.1264, "type": "quantitative", "scale": {"domain": [0, 1]}, "axis": null}, "y": {"datum": 0.3692, "type": "quantitative", "scale": {"domain": [0, 1], "reverse": true}, "axis": null}, "text": {"value": "dσ/dM"}}},
{"data": {"values": [{}]}, "mark": {"type": "text", "font": "Liberation Serif", "fontSize": 25, "align": "right", "baseline": "alphabetic"}, "encoding": {"x": {"datum": 1.0, "type": "quantitative", "scale": {"domain": [0, 1]}, "axis": null}, "y": {"datum": 1.1457, "type": "quantitative", "scale": {"domain": [0, 1], "reverse": true}, "axis": null}, "text": {"value": "(GeV)"}}},
{"data": {"values": [{}]}, "mark": {"type": "text", "font": "Liberation Serif", "fontSize": 18, "align": "right", "baseline": "alphabetic"}, "encoding": {"x": {"datum": 0.791, "type": "quantitative", "scale": {"domain": [0, 1]}, "axis": null}, "y": {"datum": 1.162, "type": "quantitative", "scale": {"domain": [0, 1], "reverse": true}, "axis": null}, "text": {"value": "pππ"}}},
{"data": {"values": [{}]}, "mark": {"type": "text", "font": "Liberation Serif", "fontSize": 25, "align": "right", "baseline": "alphabetic"}, "encoding": {"x": {"datum": 0.7119, "type": "quantitative", "scale": {"domain": [0, 1]}, "axis": null}, "y": {"datum": 1.1457, "type": "quantitative", "scale": {"domain": [0, 1], "reverse": true}, "axis": null}, "text": {"value": "M"}}}
],
"resolve": {"scale": {"x": "independent", "y": "independent"}, "axis": {"x": "independent", "y": "independent"}}
},
{
"width": 364, "height": 357,
"layer": [
{"data": {"name": "p4"}, "mark": {"type": "line", "strokeWidth": 1.8},
 "encoding": {
  "x": {"field": "x", "type": "quantitative", "scale": {"domain": [-2, 2], "nice": false, "zero": false}, "axis": {"orient": "bottom", "values": [-2, -1, 0, 1, 2], "format": "d", "ticks": false, "domain": false, "grid": false, "title": null, "labelFont": "Liberation Serif", "labelFontSize": 20, "labelColor": "black", "labelPadding": 4, "labelFlush": false, "labelOverlap": false}},
  "y": {"field": "y", "type": "quantitative", "scale": {"domain": [0, 1], "nice": false, "zero": false}, "axis": {"orient": "left", "values": [0, 0.2, 0.4, 0.6, 0.8, 1], "format": ".1~f", "ticks": false, "domain": false, "grid": false, "title": null, "labelFont": "Liberation Serif", "labelFontSize": 20, "labelColor": "black", "labelPadding": 3, "labelBaseline": "middle", "labelFlush": false, "labelOverlap": false}},
  "color": {"field": "s", "type": "nominal", "scale": {"domain": ["n", "o", "e"], "range": ["#000000", "#ff0000", "#0000ff"]}, "legend": {"orient": "none", "legendX": 117, "legendY": 268.7, "title": null, "symbolType": "stroke", "symbolSize": 1600, "symbolStrokeWidth": 2, "labelFont": "Liberation Serif", "labelFontSize": 18, "labelColor": "black", "labelOffset": 8, "clipHeight": 18, "rowPadding": 4.5, "padding": 0, "labelLimit": 300, "labelExpr": "datum.value == 'n' ? 'new' : datum.value == 'o' ? 'old (× 3.5)' : 'old with s'"}},
  "strokeDash": {"field": "s", "type": "nominal", "scale": {"domain": ["n", "o", "e"], "range": [[1, 0], [17, 7], [4, 3]]}, "legend": {"orient": "none", "legendX": 117, "legendY": 268.7, "title": null, "symbolType": "stroke", "symbolSize": 1600, "symbolStrokeWidth": 2, "labelFont": "Liberation Serif", "labelFontSize": 18, "labelColor": "black", "labelOffset": 8, "clipHeight": 18, "rowPadding": 4.5, "padding": 0, "labelLimit": 300, "labelExpr": "datum.value == 'n' ? 'new' : datum.value == 'o' ? 'old (× 3.5)' : 'old with s'"}}
 }},
{"data": {"values": [{}]}, "mark": {"type": "text", "text": ""},
 "encoding": {
  "x": {"datum": 0, "type": "quantitative", "scale": {"domain": [-2, 2], "nice": false, "zero": false}, "axis": {"orient": "bottom", "values": [-2, -1, 0, 1, 2], "labels": false, "domain": false, "grid": false, "title": null, "tickSize": -11, "tickColor": "black", "tickWidth": 1}},
  "y": {"datum": 0, "type": "quantitative", "scale": {"domain": [0, 1], "nice": false, "zero": false}, "axis": {"orient": "left", "values": [0, 0.2, 0.4, 0.6, 0.8, 1], "labels": false, "domain": false, "grid": false, "title": null, "tickSize": -11, "tickColor": "black", "tickWidth": 1}}
 }},
{"data": {"values": [{}]}, "mark": {"type": "text", "text": ""},
 "encoding": {
  "x": {"datum": 0, "type": "quantitative", "scale": {"domain": [-2, 2], "nice": false, "zero": false}, "axis": {"orient": "bottom", "values": [-1.8, -1.6, -1.4, -1.2, -0.8, -0.6, -0.4, -0.2, 0.2, 0.4, 0.6, 0.8, 1.2, 1.4, 1.6, 1.8], "labels": false, "domain": false, "grid": false, "title": null, "tickSize": -6, "tickColor": "black", "tickWidth": 1}},
  "y": {"datum": 0, "type": "quantitative", "scale": {"domain": [0, 1], "nice": false, "zero": false}, "axis": {"orient": "left", "values": [0.05, 0.1, 0.15, 0.25, 0.3, 0.35, 0.45, 0.5, 0.55, 0.65, 0.7, 0.75, 0.85, 0.9, 0.95], "labels": false, "domain": false, "grid": false, "title": null, "tickSize": -6, "tickColor": "black", "tickWidth": 1}}
 }},
{"data": {"values": [{}]}, "mark": {"type": "text", "text": ""},
 "encoding": {
  "x": {"datum": 0, "type": "quantitative", "scale": {"domain": [-2, 2], "nice": false, "zero": false}, "axis": {"orient": "top", "values": [-2, -1, 0, 1, 2], "labels": false, "domain": false, "grid": false, "title": null, "tickSize": -11, "tickColor": "black", "tickWidth": 1}},
  "y": {"datum": 0, "type": "quantitative", "scale": {"domain": [0, 1], "nice": false, "zero": false}, "axis": {"orient": "right", "values": [0, 0.2, 0.4, 0.6, 0.8, 1], "labels": false, "domain": false, "grid": false, "title": null, "tickSize": -11, "tickColor": "black", "tickWidth": 1}}
 }},
{"data": {"values": [{}]}, "mark": {"type": "text", "text": ""},
 "encoding": {
  "x": {"datum": 0, "type": "quantitative", "scale": {"domain": [-2, 2], "nice": false, "zero": false}, "axis": {"orient": "top", "values": [-1.8, -1.6, -1.4, -1.2, -0.8, -0.6, -0.4, -0.2, 0.2, 0.4, 0.6, 0.8, 1.2, 1.4, 1.6, 1.8], "labels": false, "domain": false, "grid": false, "title": null, "tickSize": -6, "tickColor": "black", "tickWidth": 1}},
  "y": {"datum": 0, "type": "quantitative", "scale": {"domain": [0, 1], "nice": false, "zero": false}, "axis": {"orient": "right", "values": [0.05, 0.1, 0.15, 0.25, 0.3, 0.35, 0.45, 0.5, 0.55, 0.65, 0.7, 0.75, 0.85, 0.9, 0.95], "labels": false, "domain": false, "grid": false, "title": null, "tickSize": -6, "tickColor": "black", "tickWidth": 1}}
 }},
{"data": {"values": [{}]}, "mark": {"type": "text", "font": "Liberation Serif", "fontSize": 18, "align": "left", "baseline": "alphabetic"}, "encoding": {"x": {"datum": 0.513, "type": "quantitative", "scale": {"domain": [0, 1]}, "axis": null}, "y": {"datum": 0.101, "type": "quantitative", "scale": {"domain": [0, 1], "reverse": true}, "axis": null}, "text": {"value": "pp → pp π⁺π⁻"}}},
{"data": {"values": [{}]}, "mark": {"type": "text", "font": "Liberation Serif", "fontSize": 18, "align": "left", "baseline": "alphabetic"}, "encoding": {"x": {"datum": 0.517, "type": "quantitative", "scale": {"domain": [0, 1]}, "axis": null}, "y": {"datum": 0.164, "type": "quantitative", "scale": {"domain": [0, 1], "reverse": true}, "axis": null}, "text": {"value": "√s = 13 TeV"}}},
{"data": {"values": [{}]}, "mark": {"type": "text", "font": "Liberation Serif", "fontSize": 18, "align": "left", "baseline": "middle"}, "encoding": {"x": {"datum": 0.4533, "type": "quantitative", "scale": {"domain": [0, 1]}, "axis": null}, "y": {"datum": 0.653, "type": "quantitative", "scale": {"domain": [0, 1], "reverse": true}, "axis": null}, "text": {"value": "DS contribution"}}},
{"data": {"values": [{}]}, "mark": {"type": "text", "font": "Liberation Serif", "fontSize": 18, "align": "left", "baseline": "middle"}, "encoding": {"x": {"datum": 0.4533, "type": "quantitative", "scale": {"domain": [0, 1]}, "axis": null}, "y": {"datum": 0.717, "type": "quantitative", "scale": {"domain": [0, 1], "reverse": true}, "axis": null}, "text": {"value": "IP exchange"}}},
{"data": {"values": [{}]}, "mark": {"type": "text", "font": "Liberation Serif", "fontSize": 13, "align": "left", "baseline": "alphabetic"}, "encoding": {"x": {"datum": 0.65, "type": "quantitative", "scale": {"domain": [0, 1]}, "axis": null}, "y": {"datum": 0.93, "type": "quantitative", "scale": {"domain": [0, 1], "reverse": true}, "axis": null}, "text": {"value": "eff"}}},
{"data": {"values": [{}]}, "mark": {"type": "text", "font": "Liberation Serif", "fontSize": 25, "align": "right", "baseline": "alphabetic", "angle": 270}, "encoding": {"x": {"datum": -0.1264, "type": "quantitative", "scale": {"domain": [0, 1]}, "axis": null}, "y": {"datum": 0, "type": "quantitative", "scale": {"domain": [0, 1], "reverse": true}, "axis": null}, "text": {"value": "(μb)"}}},
{"data": {"values": [{}]}, "mark": {"type": "text", "font": "Liberation Serif", "fontSize": 18, "align": "right", "baseline": "alphabetic", "angle": 270}, "encoding": {"x": {"datum": -0.1154, "type": "quantitative", "scale": {"domain": [0, 1]}, "axis": null}, "y": {"datum": 0.14, "type": "quantitative", "scale": {"domain": [0, 1], "reverse": true}, "axis": null}, "text": {"value": "π"}}},
{"data": {"values": [{}]}, "mark": {"type": "text", "font": "Liberation Serif", "fontSize": 25, "align": "right", "baseline": "alphabetic", "angle": 270}, "encoding": {"x": {"datum": -0.1264, "type": "quantitative", "scale": {"domain": [0, 1]}, "axis": null}, "y": {"datum": 0.168, "type": "quantitative", "scale": {"domain": [0, 1], "reverse": true}, "axis": null}, "text": {"value": "dσ/dη"}}},
{"data": {"values": [{}]}, "mark": {"type": "text", "font": "Liberation Serif", "fontSize": 18, "align": "right", "baseline": "alphabetic"}, "encoding": {"x": {"datum": 0.997, "type": "quantitative", "scale": {"domain": [0, 1]}, "axis": null}, "y": {"datum": 1.162, "type": "quantitative", "scale": {"domain": [0, 1], "reverse": true}, "axis": null}, "text": {"value": "π"}}},
{"data": {"values": [{}]}, "mark": {"type": "text", "font": "Liberation Serif", "fontSize": 25, "align": "right", "baseline": "alphabetic"}, "encoding": {"x": {"datum": 0.97, "type": "quantitative", "scale": {"domain": [0, 1]}, "axis": null}, "y": {"datum": 1.1457, "type": "quantitative", "scale": {"domain": [0, 1], "reverse": true}, "axis": null}, "text": {"value": "η"}}}
],
"resolve": {"scale": {"x": "independent", "y": "independent"}, "axis": {"x": "independent", "y": "independent"}}
}
]
}
]
}
